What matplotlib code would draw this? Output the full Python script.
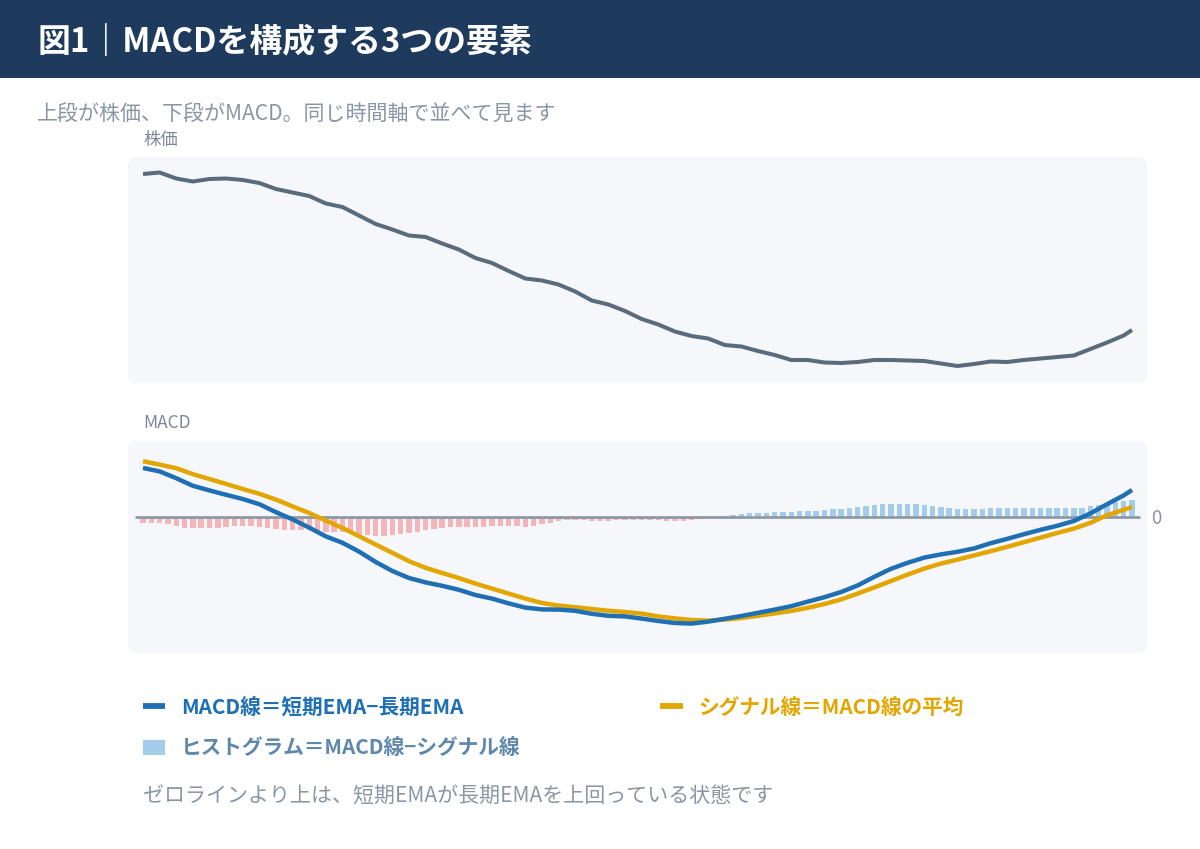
import matplotlib
matplotlib.use("Agg")
import matplotlib.pyplot as plt
from matplotlib.patches import FancyBboxPatch, Rectangle
import numpy as np

plt.rcParams['font.family'] = ['Noto Sans CJK JP', 'DejaVu Sans']

# --- data ---
line_days = list(range(0, 120, 2)) + [119]
price = [1418, 1421, 1409, 1403, 1408, 1409, 1406, 1400, 1388, 1381,
         1374, 1359, 1352, 1335, 1318, 1307, 1295, 1292, 1279, 1267,
         1250, 1240, 1224, 1209, 1205, 1197, 1183, 1165, 1157, 1144,
         1128, 1117, 1103, 1094, 1089, 1076, 1073, 1064, 1056, 1046,
         1046, 1041, 1040, 1042, 1046, 1046, 1045, 1044, 1039, 1034,
         1038, 1043, 1042, 1046, 1049, 1052, 1055, 1068, 1081, 1095, 1106]
macd = [24.5, 22.8, 19.4, 15.6, 13.3, 11.1, 9.0, 6.4, 2.4, -1.2,
        -5.3, -9.7, -12.9, -17.3, -22.5, -27.0, -30.5, -32.7, -34.4, -36.4,
        -39.0, -40.8, -43.2, -45.3, -46.2, -46.3, -46.9, -48.4, -49.4, -49.7,
        -50.8, -52.0, -53.0, -53.3, -52.3, -50.9, -49.5, -47.9, -46.3, -44.6,
        -42.3, -40.1, -37.5, -34.2, -29.9, -25.9, -22.9, -20.3, -18.7, -17.4,
        -15.7, -13.1, -10.9, -8.6, -6.4, -4.4, -2.0, 1.8, 6.4, 10.8, 13.5]
signal = [27.9, 26.2, 24.4, 21.4, 19.0, 16.5, 14.0, 11.6, 8.7, 5.3,
          2.0, -1.8, -5.5, -9.6, -13.8, -17.9, -22.1, -25.4, -28.0, -30.5,
          -33.3, -35.8, -38.3, -40.8, -43.0, -44.3, -45.1, -46.0, -46.9, -47.5,
          -48.3, -49.7, -50.7, -51.5, -51.8, -51.3, -50.5, -49.4, -48.2, -47.0,
          -45.4, -43.5, -41.2, -38.3, -35.2, -32.0, -28.8, -25.8, -23.3, -21.3,
          -19.2, -17.1, -14.9, -12.6, -10.3, -8.0, -5.8, -2.9, 0.9, 3.6, 5.0]
hist_days = list(range(120))
hist = [-3.0, -3.0, -3.0, -3.5, -4.3, -5.5, -5.5, -5.3, -5.3, -5.3,
        -5.0, -4.7, -4.7, -4.7, -5.0, -5.3, -6.0, -6.3, -6.5, -6.5,
        -6.5, -7.2, -7.3, -7.3, -7.3, -8.2, -8.7, -8.8, -9.3, -9.5,
        -9.0, -8.6, -8.2, -7.5, -6.7, -6.0, -5.6, -5.1, -4.8, -5.0,
        -5.0, -4.8, -4.5, -4.6, -4.6, -4.7, -4.8, -4.3, -3.6, -2.8,
        -2.1, -1.7, -1.6, -1.6, -2.0, -2.2, -1.8, -1.4, -1.3, -1.4,
        -1.4, -1.4, -1.4, -1.8, -1.8, -1.8, -1.4, -1.0, -0.3, 0.2,
        0.5, 1.0, 1.5, 2.0, 2.0, 2.2, 2.3, 2.5, 2.3, 3.0,
        3.2, 3.2, 3.5, 3.8, 4.2, 4.7, 5.2, 5.7, 6.2, 6.6,
        6.7, 6.7, 6.7, 6.5, 6.2, 5.5, 5.2, 4.7, 4.2, 4.0,
        4.0, 4.2, 4.3, 4.3, 4.3, 4.3, 4.3, 4.3, 4.5, 4.5,
        4.5, 4.3, 4.3, 4.5, 5.3, 6.0, 6.7, 7.3, 7.8, 8.3]

title = "図1｜MACDを構成する3つの要素"
subtitle = "上段が株価、下段がMACD。同じ時間軸で並べて見ます"
note = "ゼロラインより上は、短期EMAが長期EMAを上回っている状態です"
lbl_macd = "MACD線＝短期EMA−長期EMA"
lbl_signal = "シグナル線＝MACD線の平均"
lbl_hist = "ヒストグラム＝MACD線−シグナル線"

# colours
navy = '#1e3a5c'
panel = '#f5f7fa'
grey_txt = '#8a96a3'
price_col = '#5a6b7b'
blue = '#1f6fb5'
gold = '#e3a600'
pos_col = '#a3cbea'
neg_col = '#f3b5b8'
zero_col = '#8e9aa6'

W, H = 1200, 849
fig = plt.figure(figsize=(W / 100, H / 100), dpi=100)

# background layer in pixel coordinates
bg = fig.add_axes([0, 0, 1, 1])
bg.set_xlim(0, W)
bg.set_ylim(H, 0)
bg.axis('off')
bg.add_patch(Rectangle((0, 0), W, 78, color=navy, lw=0))
bg.add_patch(FancyBboxPatch((128, 157), 1019, 226, boxstyle="round,pad=0,rounding_size=9",
                            fc=panel, ec='none'))
bg.add_patch(FancyBboxPatch((128, 441), 1019, 212, boxstyle="round,pad=0,rounding_size=9",
                            fc=panel, ec='none'))


def fy(y):
    return 1 - y / H


fig.text(38 / W, fy(43), title, color='white', fontsize=23.7, fontweight='bold', va='center')
fig.text(37 / W, fy(115), subtitle, color=grey_txt, fontsize=15.1, va='center')
fig.text(143 / W, fy(140), "株価", color='#7d8995', fontsize=12.5, va='center')
fig.text(143 / W, fy(423), "MACD", color='#7d8995', fontsize=12.5, va='center')

xl = (-1.805, 120.805)

# price panel
ax1 = fig.add_axes([128 / W, 1 - 383 / H, 1019 / W, 226 / H])
ax1.patch.set_alpha(0)
ax1.plot(line_days, price, color=price_col, lw=2.9, solid_capstyle='butt')
ax1.set_xlim(*xl)
ax1.set_ylim(1000, 1452)
ax1.axis('off')

# MACD panel
ax2 = fig.add_axes([128 / W, 1 - 653 / H, 1019 / W, 212 / H])
ax2.patch.set_alpha(0)
hc = [pos_col if v >= 0 else neg_col for v in hist]
ax2.bar(hist_days, hist, width=0.65, color=hc, zorder=1)
ax2.hlines(0, -1, 120, color=zero_col, lw=2, zorder=2)
ax2.plot(line_days, signal, color=gold, lw=3.2, zorder=3, solid_capstyle='butt')
ax2.plot(line_days, macd, color=blue, lw=3.2, zorder=4, solid_capstyle='butt')
ax2.set_xlim(*xl)
ax2.set_ylim(-68, 38)
ax2.axis('off')
ax2.text(121.3, -0.8, "0", color=grey_txt, fontsize=13.5, va='center', ha='left', clip_on=False)

# legend
bg.plot([143, 165], [706, 706], color=blue, lw=4.2, solid_capstyle='butt')
fig.text(181 / W, fy(707), lbl_macd, color=blue, fontsize=14.9, fontweight='bold', va='center')
bg.plot([660, 683], [706, 706], color=gold, lw=4.2, solid_capstyle='butt')
fig.text(698 / W, fy(707), lbl_signal, color=gold, fontsize=14.9, fontweight='bold', va='center')
bg.add_patch(Rectangle((143, 740), 22, 15, color=pos_col, lw=0))
fig.text(181 / W, fy(748), lbl_hist, color='#5f88ad', fontsize=14.9, fontweight='bold', va='center')
fig.text(143 / W, fy(797), note, color=grey_txt, fontsize=15.1, va='center')

fig.savefig('out.png', dpi=100)
